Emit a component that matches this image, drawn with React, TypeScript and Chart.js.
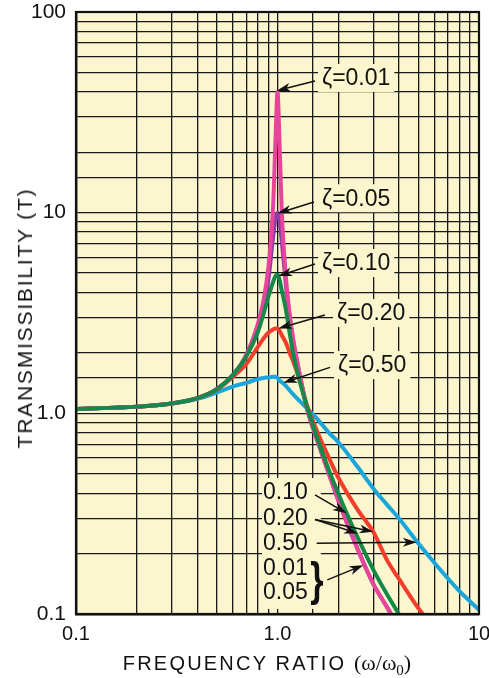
import React, { useEffect, useRef } from "react";
import { Chart, registerables } from "chart.js";

Chart.register(...registerables);

// ---------- data ----------
const frequencyRatio = [
  0.1, 0.2, 0.3, 0.4, 0.5, 0.6, 0.7, 0.8, 0.85, 0.9, 0.95, 0.98, 1.0, 1.02, 1.05, 1.1,
  1.15, 1.2, 1.3, 1.4, 1.6, 1.8, 2.0, 2.5, 3.0, 3.5, 4.0, 5.0, 6.0, 8.0, 10,
];
const zeta001 = [
  1.05, 1.08, 1.12, 1.19, 1.32, 1.55, 1.95, 2.8, 3.6, 5.3, 10.5, 25, 40, 25, 10, 4.8,
  3.1, 2.3, 1.5, 1.06, 0.7, 0.5, 0.37, 0.21, 0.14, 0.108, 0.085, 0.055, 0.04, 0.022, 0.014,
];
const zeta005 = [
  1.05, 1.08, 1.12, 1.19, 1.32, 1.55, 1.95, 2.75, 3.45, 4.6, 7.5, 9.5, 10, 9.3, 7.2, 4.4,
  3.0, 2.25, 1.5, 1.06, 0.7, 0.5, 0.37, 0.21, 0.14, 0.108, 0.085, 0.055, 0.04, 0.022, 0.014,
];
const zeta010 = [
  1.05, 1.08, 1.12, 1.19, 1.32, 1.55, 1.92, 2.55, 3.1, 3.8, 4.5, 4.85, 4.9, 4.7, 4.1, 3.3,
  2.5, 1.95, 1.4, 1.08, 0.72, 0.52, 0.4, 0.24, 0.165, 0.125, 0.1, 0.07, 0.052, 0.032, 0.022,
];
const zeta020 = [
  1.05, 1.08, 1.12, 1.19, 1.31, 1.52, 1.76, 2.15, 2.35, 2.52, 2.62, 2.65, 2.65, 2.6, 2.45, 2.25,
  2.0, 1.8, 1.42, 1.1, 0.78, 0.6, 0.48, 0.33, 0.255, 0.185, 0.15, 0.107, 0.085, 0.058, 0.043,
];
const zeta050 = [
  1.05, 1.08, 1.12, 1.18, 1.27, 1.36, 1.42, 1.48, 1.5, 1.51, 1.52, 1.52, 1.5, 1.46, 1.43, 1.37,
  1.3, 1.24, 1.14, 1.06, 0.92, 0.8, 0.72, 0.54, 0.42, 0.35, 0.3, 0.225, 0.18, 0.13, 0.105,
];

const seriesNames = ["ζ=0.01", "ζ=0.05", "ζ=0.10", "ζ=0.20", "ζ=0.50"];
const seriesValues = [zeta001, zeta005, zeta010, zeta020, zeta050];
const seriesColors = ["#e8449c", "#8b3ea6", "#16894a", "#f43d2a", "#1aa6da"];
const seriesDrawOrder = [1, 2, 0, 3, 4];

const xTickText: Record<string, string> = { "0.1": "0.1", "1": "1.0", "10": "10" };
const yTickText: Record<string, string> = { "0.1": "0.1", "1": "1.0", "10": "10", "100": "100" };

// annotation labels (data coordinates: frequency ratio, transmissibility)
const peakLabels = ["ζ=0.01", "ζ=0.05", "ζ=0.10", "ζ=0.20", "ζ=0.50"];
const peakLabelAt = [[1.663, 46.9], [1.663, 11.8], [1.663, 5.61], [1.974, 3.16], [1.997, 1.74]];
const peakArrowFrom = [[1.535, 45.3], [1.517, 11.3], [1.535, 5.55], [1.72, 3.09], [1.822, 1.695]];
const peakArrowTo = [[0.991, 40.5], [1.0, 9.92], [1.009, 4.83], [1.009, 2.65], [1.069, 1.42]];

const tailLabels = ["0.10", "0.20", "0.50", "0.01", "0.05"];
const tailLabelRatio = 0.847;
const tailLabelLevel = [0.405, 0.301, 0.226, 0.1695, 0.1287];
const tailArrowFrom = [[1.535, 0.392], [1.535, 0.296], [1.535, 0.296], [1.565, 0.225], [1.767, 0.148]];
const tailArrowTo = [[2.205, 0.318], [2.51, 0.252], [2.99, 0.257], [4.91, 0.228], [2.666, 0.175]];
const tailBoxCorners = [[0.838, 0.476], [1.64, 0.106]];
const braceAt = [1.57, 0.148];

const BG = "#fcf6cf";
const FONT = '"Liberation Sans", Arial, Helvetica, sans-serif';

function keyOf(v: number) {
  return String(Number(Number(v).toPrecision(6)));
}

function drawArrow(ctx: CanvasRenderingContext2D, x1: number, y1: number, x2: number, y2: number) {
  const a = Math.atan2(y2 - y1, x2 - x1);
  const L = 14;
  const W = 4.5;
  const c = Math.cos(a);
  const s = Math.sin(a);
  ctx.beginPath();
  ctx.moveTo(x1, y1);
  ctx.lineTo(x2 - c * L * 0.7, y2 - s * L * 0.7);
  ctx.stroke();
  const bx = x2 - c * L;
  const by = y2 - s * L;
  const nx = -s;
  const ny = c;
  ctx.beginPath();
  ctx.moveTo(x2, y2);
  ctx.lineTo(bx + nx * W, by + ny * W);
  ctx.lineTo(x2 - c * L * 0.72, y2 - s * L * 0.72);
  ctx.lineTo(bx - nx * W, by - ny * W);
  ctx.closePath();
  ctx.fill();
}

const annotationPlugin = {
  id: "annotations",
  beforeDraw(chart: any) {
    const { ctx, chartArea } = chart;
    ctx.save();
    ctx.fillStyle = BG;
    ctx.fillRect(chartArea.left, chartArea.top, chartArea.right - chartArea.left, chartArea.bottom - chartArea.top);
    ctx.restore();
  },
  beforeDatasetsDraw(chart: any) {
    const { ctx } = chart;
    const xs = chart.scales.x;
    const ys = chart.scales.y;
    ctx.save();
    ctx.fillStyle = BG;
    ctx.font = `23px ${FONT}`;
    peakLabels.forEach((t, i) => {
      const x = xs.getPixelForValue(peakLabelAt[i][0]);
      const y = ys.getPixelForValue(peakLabelAt[i][1]);
      const w = ctx.measureText(t).width;
      ctx.fillRect(x - 4, y - 14, w + 8, 28);
    });
    const bx1 = xs.getPixelForValue(tailBoxCorners[0][0]);
    const by1 = ys.getPixelForValue(tailBoxCorners[0][1]);
    const bx2 = xs.getPixelForValue(tailBoxCorners[1][0]);
    const by2 = ys.getPixelForValue(tailBoxCorners[1][1]);
    ctx.fillRect(bx1, by1, bx2 - bx1, by2 - by1);
    ctx.restore();
  },
  afterDatasetsDraw(chart: any) {
    const { ctx } = chart;
    const xs = chart.scales.x;
    const ys = chart.scales.y;
    const P = (p: number[]) => [xs.getPixelForValue(p[0]), ys.getPixelForValue(p[1])];
    ctx.save();
    ctx.fillStyle = "#111";
    ctx.strokeStyle = "#111";
    ctx.lineWidth = 1.5;
    ctx.font = `23px ${FONT}`;
    ctx.textBaseline = "middle";
    ctx.textAlign = "left";
    peakLabels.forEach((t, i) => {
      const [x, y] = P(peakLabelAt[i]);
      ctx.fillText(t, x, y + 1);
      const [x1, y1] = P(peakArrowFrom[i]);
      const [x2, y2] = P(peakArrowTo[i]);
      drawArrow(ctx, x1, y1, x2, y2);
    });
    tailLabels.forEach((t, i) => {
      const [x, y] = P([tailLabelRatio, tailLabelLevel[i]]);
      ctx.fillText(t, x, y + 1);
    });
    tailArrowFrom.forEach((f, i) => {
      const [x1, y1] = P(f);
      const [x2, y2] = P(tailArrowTo[i]);
      drawArrow(ctx, x1, y1, x2, y2);
    });
    const [bx, by] = P(braceAt);
    ctx.save();
    ctx.translate(bx, by);
    ctx.scale(0.9, 1.2);
    ctx.font = `bold 38px ${FONT}`;
    ctx.textAlign = "center";
    ctx.fillText("}", 0, 2);
    ctx.restore();
    ctx.restore();
  },
};

export default function App() {
  const canvasRef = useRef<HTMLCanvasElement>(null);

  useEffect(() => {
    document.body.style.margin = "0";
    const canvas = canvasRef.current!;
    const chart = new Chart(canvas, {
      type: "line",
      data: {
        datasets: seriesNames.map((name, i) => ({
          label: name,
          data: frequencyRatio.map((r, j) => ({ x: r, y: seriesValues[i][j] })),
          borderColor: seriesColors[i],
          backgroundColor: seriesColors[i],
          borderWidth: 4,
          pointRadius: 0,
          fill: false,
          cubicInterpolationMode: "monotone" as const,
          order: seriesDrawOrder[i],
        })),
      },
      options: {
        responsive: false,
        animation: false,
        devicePixelRatio: 1,
        layout: { padding: { top: 12, right: 10, left: 0, bottom: 0 } },
        plugins: { legend: { display: false }, tooltip: { enabled: false } },
        events: [],
        scales: {
          x: {
            type: "logarithmic",
            min: 0.1,
            max: 10,
            position: "bottom",
            afterFit: (s: any) => {
              s.height = 64;
              s.paddingLeft = 0;
              s.paddingRight = 0;
            },
            grid: { color: "#181818", lineWidth: 1.3, drawTicks: false },
            border: { display: true, color: "#111", width: 2.4 },
            ticks: {
              autoSkip: false,
              maxRotation: 0,
              minRotation: 0,
              padding: 8,
              color: "#111",
              font: { family: FONT, size: 20 },
              callback: (v: any) => xTickText[keyOf(v)] ?? "",
            },
          },
          y: {
            type: "logarithmic",
            min: 0.1,
            max: 100,
            position: "left",
            afterFit: (s: any) => {
              s.width = 76;
              s.paddingTop = 0;
              s.paddingBottom = 0;
            },
            grid: { color: "#181818", lineWidth: 1.3, drawTicks: false },
            border: { display: true, color: "#111", width: 2.4 },
            ticks: {
              autoSkip: false,
              padding: 10,
              color: "#111",
              font: { family: FONT, size: 21 },
              callback: (v: any) => yTickText[keyOf(v)] ?? "",
            },
          },
        },
      },
      plugins: [
        annotationPlugin,
        {
          id: "frame",
          afterDatasetsDraw(chart: any) {
            const { ctx, chartArea } = chart;
            ctx.save();
            ctx.strokeStyle = "#111";
            ctx.lineWidth = 2.2;
            ctx.strokeRect(chartArea.left, chartArea.top, chartArea.right - chartArea.left, chartArea.bottom - chartArea.top);
            ctx.restore();
          },
        },
      ],
    } as any);
    return () => chart.destroy();
  }, []);

  return (
    <div style={{ position: "relative", width: 489, height: 678, background: "#fff", fontFamily: FONT, color: "#111" }}>
      <canvas ref={canvasRef} width={489} height={678} style={{ display: "block", width: 489, height: 678 }} />
      <div
        style={{
          position: "absolute",
          left: 25,
          top: 318,
          transform: "translate(-50%, -50%) rotate(-90deg)",
          whiteSpace: "nowrap",
          fontSize: 21,
          letterSpacing: 1.8,
          lineHeight: "24px",
        }}
      >
        TRANSMISSIBILITY (T)
      </div>
      <div
        style={{
          position: "absolute",
          left: 267,
          top: 663,
          transform: "translate(-50%, -50%)",
          whiteSpace: "nowrap",
          fontSize: 20,
          letterSpacing: 2.2,
          lineHeight: "24px",
        }}
      >
        FREQUENCY RATIO{" "}
        <span style={{ fontFamily: '"Liberation Serif", "Times New Roman", serif', fontSize: 22, letterSpacing: 0 }}>
          (ω/ω<sub style={{ fontSize: 15, verticalAlign: "-5px", lineHeight: 0 }}>0</sub>)
        </span>
      </div>
    </div>
  );
}
